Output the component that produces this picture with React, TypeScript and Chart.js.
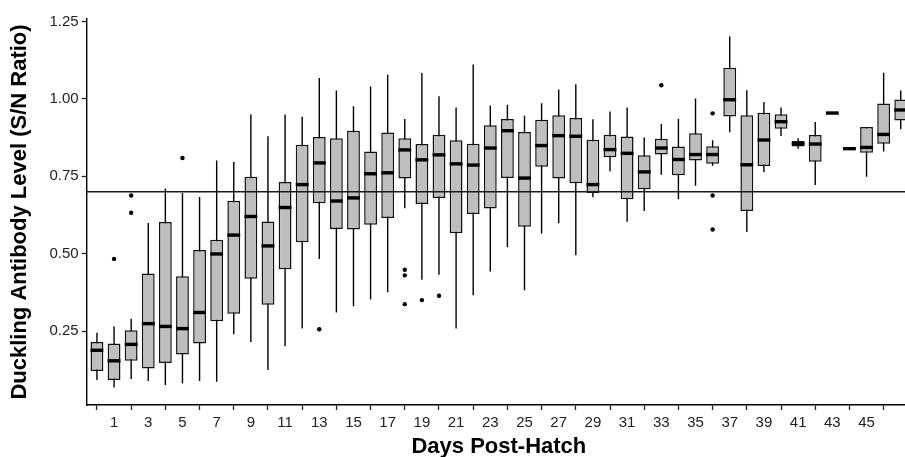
import React, { useEffect, useRef } from "react";
import { Chart, registerables } from "chart.js";

Chart.register(...registerables);

// Days post-hatch (one box per day)
const days = [
  0, 1, 2, 3, 4, 5, 6, 7, 8, 9, 10, 11, 12, 13, 14, 15, 16, 17, 18, 19, 20, 21, 22, 23,
  24, 25, 26, 27, 28, 29, 30, 31, 32, 33, 34, 35, 36, 37, 38, 39, 40, 41, 42, 43, 44, 45, 46, 47,
];

const whiskerLow = [
  0.092, 0.068, 0.095, 0.089, 0.076, 0.081, 0.089, 0.086, 0.24, 0.215, 0.124, 0.201,
  0.258, 0.483, 0.31, 0.33, 0.352, 0.375, 0.647, 0.416, 0.432, 0.258, 0.366, 0.442,
  0.521, 0.382, 0.565, 0.598, 0.495, 0.682, 0.766, 0.603, 0.638, 0.755, 0.676, 0.719,
  0.784, 0.892, 0.57, 0.763, 0.88, 0.839, 0.722, 0.954, 0.839, 0.748, 0.83, 0.902,
];

const q1 = [
  0.121, 0.092, 0.154, 0.129, 0.147, 0.174, 0.21, 0.282, 0.306, 0.419, 0.335, 0.45,
  0.537, 0.663, 0.58, 0.578, 0.593, 0.615, 0.743, 0.66, 0.68, 0.566, 0.628, 0.646,
  0.744, 0.587, 0.781, 0.743, 0.727, 0.696, 0.811, 0.676, 0.708, 0.82, 0.753, 0.801,
  0.79, 0.943, 0.638, 0.783, 0.903, 0.846, 0.797, 0.954, 0.839, 0.826, 0.855, 0.93,
];

const medians = [
  0.188, 0.154, 0.207, 0.274, 0.265, 0.258, 0.31, 0.499, 0.56, 0.62, 0.525, 0.649,
  0.723, 0.793, 0.67, 0.68, 0.758, 0.761, 0.835, 0.803, 0.819, 0.79, 0.786, 0.841,
  0.897, 0.744, 0.849, 0.881, 0.879, 0.723, 0.836, 0.824, 0.764, 0.841, 0.804, 0.82,
  0.82, 0.997, 0.787, 0.867, 0.926, 0.855, 0.854, 0.954, 0.839, 0.843, 0.885, 0.964,
];

const q3 = [
  0.215, 0.21, 0.253, 0.436, 0.602, 0.427, 0.512, 0.545, 0.671, 0.748, 0.604, 0.731,
  0.852, 0.877, 0.873, 0.897, 0.83, 0.891, 0.873, 0.854, 0.884, 0.866, 0.855, 0.915,
  0.935, 0.893, 0.932, 0.947, 0.938, 0.868, 0.884, 0.878, 0.818, 0.871, 0.846, 0.889,
  0.847, 1.1, 0.947, 0.955, 0.95, 0.864, 0.883, 0.954, 0.839, 0.909, 0.985, 0.998,
];

const whiskerHigh = [
  0.245, 0.265, 0.29, 0.599, 0.71, 0.696, 0.683, 0.801, 0.796, 0.949, 0.879, 0.949,
  0.942, 1.067, 1.027, 0.976, 1.04, 1.078, 0.935, 1.083, 1.008, 0.972, 1.111, 0.978,
  0.981, 0.945, 0.986, 1.03, 1.047, 0.934, 0.959, 0.972, 0.875, 0.919, 0.936, 1.001,
  0.866, 1.201, 1.028, 0.99, 0.972, 0.873, 0.925, 0.954, 0.839, 0.909, 1.084, 1.027,
];

const outlierDays = [1, 2, 2, 5, 13, 18, 18, 18, 19, 20, 33, 36, 36, 36];
const outlierValues = [
  0.483, 0.688, 0.632, 0.809, 0.256, 0.448, 0.43, 0.337, 0.35, 0.364, 1.044, 0.953, 0.688, 0.578,
];

const xTickValues = [
  1, 3, 5, 7, 9, 11, 13, 15, 17, 19, 21, 23, 25, 27, 29, 31, 33, 35, 37, 39, 41, 43, 45,
];
const yTickValues = [0.25, 0.5, 0.75, 1.0, 1.25];
const referenceLevel = 0.7;

const FONT = "'Liberation Sans', Arial, Helvetica, sans-serif";

const boxPartsPlugin = {
  id: "boxParts",
  beforeDatasetsDraw(chart: any) {
    const { ctx, chartArea, scales } = chart;
    const x = scales.x;
    const y = scales.y;
    ctx.save();
    ctx.beginPath();
    ctx.rect(chartArea.left, chartArea.top, chartArea.right - chartArea.left, chartArea.bottom - chartArea.top);
    ctx.clip();
    ctx.strokeStyle = "#000";
    ctx.lineWidth = 1.4;
    days.forEach((d, i) => {
      const px = x.getPixelForValue(d);
      ctx.beginPath();
      ctx.moveTo(px, y.getPixelForValue(whiskerLow[i]));
      ctx.lineTo(px, y.getPixelForValue(whiskerHigh[i]));
      ctx.stroke();
    });
    ctx.restore();
  },
  afterDatasetsDraw(chart: any) {
    const { ctx, chartArea, scales } = chart;
    const y = scales.y;
    const meta = chart.getDatasetMeta(0);
    ctx.save();
    ctx.beginPath();
    ctx.rect(chartArea.left, chartArea.top, chartArea.right - chartArea.left, chartArea.bottom - chartArea.top);
    ctx.clip();
    ctx.fillStyle = "#000";
    meta.data.forEach((bar: any, i: number) => {
      const w = bar.width;
      const ym = y.getPixelForValue(medians[i]);
      ctx.fillRect(bar.x - w / 2, ym - 1.7, w, 3.4);
    });
    const yr = y.getPixelForValue(referenceLevel);
    ctx.strokeStyle = "#1a1a1a";
    ctx.lineWidth = 1.5;
    ctx.beginPath();
    ctx.moveTo(chartArea.left, yr);
    ctx.lineTo(chartArea.right, yr);
    ctx.stroke();
    ctx.restore();
  },
};

export default function App() {
  const canvasRef = useRef<HTMLCanvasElement | null>(null);

  useEffect(() => {
    if (!canvasRef.current) return;
    const boxData = days.map((d, i) => ({ x: d, y: [q1[i], q3[i]] }));
    const outlierData = outlierDays.map((d, i) => ({ x: d, y: outlierValues[i] }));

    const chart = new Chart(canvasRef.current, {
      type: "bar",
      data: {
        datasets: [
          {
            type: "bar",
            label: "Box",
            data: boxData as any,
            backgroundColor: "#BEBEBE",
            borderColor: "#111",
            borderWidth: 1.5,
            borderSkipped: false,
            barPercentage: 0.75,
            categoryPercentage: 1,
          } as any,
          {
            type: "scatter",
            label: "Outliers",
            data: outlierData as any,
            backgroundColor: "#000",
            borderColor: "#000",
            borderWidth: 0,
            pointRadius: 2.2,
          } as any,
        ],
      },
      options: {
        animation: false,
        responsive: true,
        maintainAspectRatio: false,
        layout: { padding: { top: 19, right: 0, bottom: 0, left: 0 } },
        plugins: {
          legend: { display: false },
          tooltip: { enabled: false },
        },
        scales: {
          x: {
            type: "linear",
            min: -0.6,
            max: 47.6,
            offset: false,
            afterBuildTicks: (scale: any) => {
              scale.ticks = xTickValues.map((v) => ({ value: v }));
            },
            ticks: {
              autoSkip: false,
              maxRotation: 0,
              padding: 3.5,
              color: "#222",
              font: { family: FONT, size: 15 },
              callback: (v: any) => String(v),
            },
            grid: {
              drawOnChartArea: false,
              drawTicks: true,
              tickLength: 5,
              tickColor: "#222",
              tickWidth: 1.3,
            },
            border: { display: true, color: "#000", width: 1.4 },
            title: {
              display: true,
              text: "Days Post-Hatch",
              color: "#000",
              font: { family: FONT, size: 22, weight: "bold" },
              padding: { top: -0.9, bottom: 1.5 },
            },
          },
          y: {
            type: "linear",
            min: 0.0113,
            max: 1.2577,
            afterBuildTicks: (scale: any) => {
              scale.ticks = yTickValues.map((v) => ({ value: v }));
            },
            ticks: {
              padding: 3,
              color: "#222",
              font: { family: FONT, size: 15 },
              callback: (v: any) => Number(v).toFixed(2),
            },
            grid: {
              drawOnChartArea: false,
              drawTicks: true,
              tickLength: 5,
              tickColor: "#222",
              tickWidth: 1.3,
            },
            border: { display: true, color: "#000", width: 1.4 },
            title: {
              display: true,
              text: "Duckling Antibody Level (S/N Ratio)",
              color: "#000",
              font: { family: FONT, size: 22, weight: "bold" },
              padding: { top: 6.8, bottom: 13.3 },
            },
          },
        },
      } as any,
      plugins: [boxPartsPlugin],
    });

    return () => {
      chart.destroy();
    };
  }, []);

  return (
    <div
      style={{
        position: "fixed",
        left: 0,
        top: 0,
        width: 905,
        height: 457,
        overflow: "hidden",
        background: "#fff",
      }}
    >
      <div style={{ position: "relative", width: 915, height: 462 }}>
        <canvas ref={canvasRef} />
      </div>
    </div>
  );
}
